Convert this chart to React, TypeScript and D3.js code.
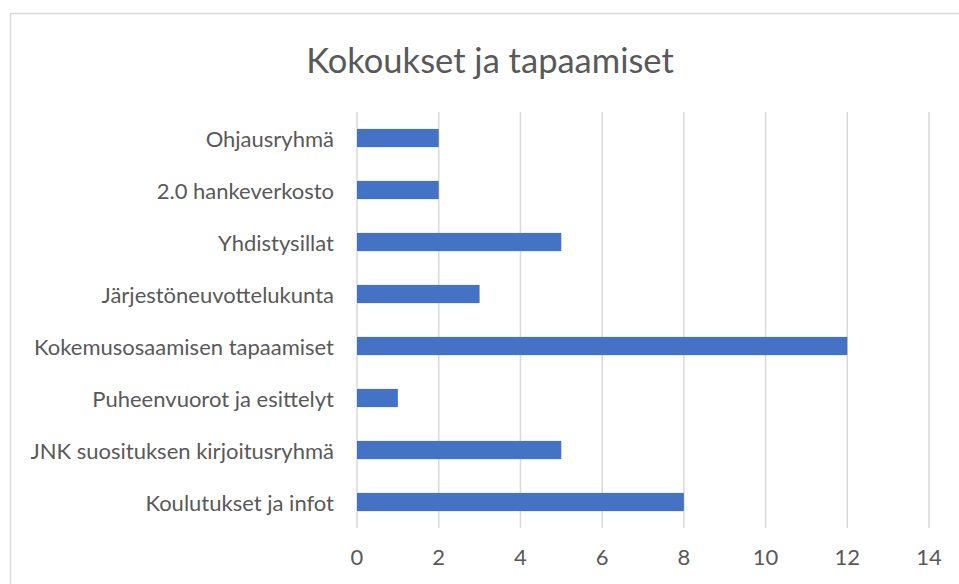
import React from "react";
import * as d3 from "d3";

const categories = [
  "Ohjausryhmä",
  "2.0 hankeverkosto",
  "Yhdistysillat",
  "Järjestöneuvottelukunta",
  "Kokemusosaamisen tapaamiset",
  "Puheenvuorot ja esittelyt",
  "JNK suosituksen kirjoitusryhmä",
  "Koulutukset ja infot",
];
const values = [2, 2, 5, 3, 12, 1, 5, 8];
const xTicks = [0, 2, 4, 6, 8, 10, 12, 14];
const title = "Kokoukset ja tapaamiset";

const W = 959;
const H = 584;
const FONT = "Lato, 'Open Sans', sans-serif";

export default function App() {
  const x = d3.scaleLinear().domain([0, 14]).range([357, 929]);
  const y = d3
    .scaleBand<string>()
    .domain(categories)
    .range([112, 528])
    .paddingInner(0.65)
    .paddingOuter(0.325);
  const gridTop = 112;
  const gridBottom = 528;
  return (
    <svg
      width={W}
      height={H}
      style={{ position: "absolute", left: 0, top: 0, background: "#fff" }}
    >
      <rect x={10.5} y={13.5} width={1000} height={1000} fill="#fff" stroke="#d9d9d9" strokeWidth={1.5} />
      <text
        x={490}
        y={59}
        textAnchor="middle"
        dominantBaseline="central"
        fontFamily={FONT}
        fontSize={34.5}
        fill="#595959"
      >
        {title}
      </text>
      {xTicks.map((t) => (
        <line
          key={"g" + t}
          x1={x(t)}
          x2={x(t)}
          y1={gridTop}
          y2={gridBottom}
          stroke="#d9d9d9"
          strokeWidth={1.5}
        />
      ))}
      {categories.map((c, i) => (
        <rect
          key={"b" + c}
          x={x(0)}
          y={y(c)!}
          width={x(values[i]) - x(0)}
          height={y.bandwidth()}
          fill="#4472C4"
        />
      ))}
      {categories.map((c) => (
        <text
          key={"l" + c}
          x={334}
          y={y(c)! + y.bandwidth() / 2}
          textAnchor="end"
          dominantBaseline="central"
          fontFamily={FONT}
          fontSize={22}
          fill="#595959"
        >
          {c}
        </text>
      ))}
      {xTicks.map((t) => (
        <text
          key={"t" + t}
          x={x(t)}
          y={556}
          textAnchor="middle"
          dominantBaseline="central"
          fontFamily={FONT}
          fontSize={22}
          fill="#595959"
        >
          {t}
        </text>
      ))}
    </svg>
  );
}
